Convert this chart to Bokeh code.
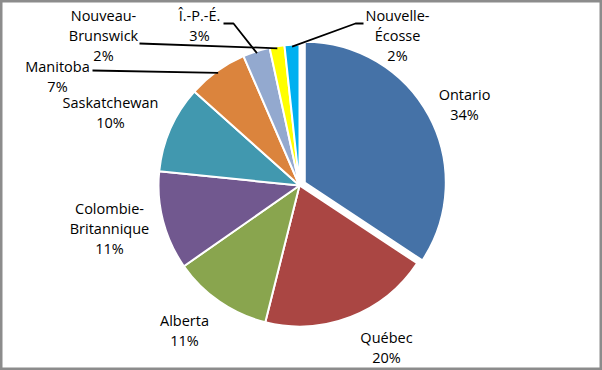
import math
from bokeh.plotting import figure
from bokeh.models import ColumnDataSource, Range1d
from bokeh.embed import file_html
from bokeh.resources import INLINE
from bokeh.core.properties import value

# ---------------- data ----------------
provinces = ["Ontario", "Québec", "Alberta", "Colombie-\nBritannique", "Saskatchewan",
             "Manitoba", "Î.-P.-É.", "Nouveau-\nBrunswick", "Nouvelle-\nÉcosse"]
shares = [34.3, 19.6, 11.4, 11.3, 10.0, 6.9, 3.1, 1.7, 1.7]

# ---------------- styles / layout ----------------
colors = ["#4572A7", "#AA4643", "#89A54E", "#71588F", "#4198AF",
          "#DB843D", "#93A9CF", "#FFFF00", "#00B0F0"]
explode = [6, 0, 0, 0, 0, 0, 0, 0, 0]
W, H = 602, 370              # picture size (pixel coords, y down)
CX, CY, R = 299.0, 185.0, 141.0
FONT = "Open Sans"
FSIZE = "14.5px"
LINE_H = 20
# label block: (x centre, y of first line) in picture pixels
label_pos = [(464, 94), (386, 337), (184, 320), (109, 208), (110, 102),
             (57, 66), (199, 15), (103, 15), (397, 15)]
# leader lines: start points near label (None = no leader)
leaders = [None, None, None, None, None,
           [(92, 70)], [(223, 23), (233, 23)], [(139, 43)], [(363, 23), (355, 23)]]


def Y(y):
    return H - y


p = figure(width=W, height=H, x_range=Range1d(0, W), y_range=Range1d(0, H),
           output_backend="svg", toolbar_location=None, min_border=0)
p.axis.visible = False
p.grid.visible = False
p.outline_line_color = "#8c8c8c"
p.outline_line_width = 4
p.background_fill_color = "white"
p.border_fill_color = "white"

total = sum(shares)
cum = 0.0
xs, ys, sa, ea, mids = [], [], [], [], []
for s, ex in zip(shares, explode):
    t0 = cum / total * 360.0
    t1 = (cum + s) / total * 360.0
    cum += s
    tm = math.radians((t0 + t1) / 2)
    mids.append(tm)
    xs.append(CX + ex * math.sin(tm))
    ys.append(Y(CY) + ex * math.cos(tm))
    sa.append(math.radians(90 - t1))
    ea.append(math.radians(90 - t0))

src = ColumnDataSource(dict(x=xs, y=ys, start=sa, end=ea, color=colors))
p.wedge(x="x", y="y", radius=R, start_angle="start", end_angle="end",
        fill_color="color", line_color="white", line_width=2, source=src)

# leader lines
for i, pts in enumerate(leaders):
    if pts is None:
        continue
    tm = mids[i]
    ex_pt = (CX + (R - 2) * math.sin(tm), CY - (R - 2) * math.cos(tm))
    allp = list(pts) + [ex_pt]
    p.line([q[0] for q in allp], [Y(q[1]) for q in allp], line_color="black", line_width=1.8)

# labels
tx, ty, tt = [], [], []
for name, s, (lx, ly) in zip(provinces, shares, label_pos):
    lines = name.split("\n") + [f"{round(s)}%"]
    for k, ln in enumerate(lines):
        tx.append(lx)
        ty.append(Y(ly + k * LINE_H))
        tt.append(ln)
p.text(x=tx, y=ty, text=tt, text_align="center", text_baseline="middle",
       text_font=value(FONT), text_font_size=FSIZE, text_color="black")

open("out.html", "w").write(file_html(p, INLINE))
